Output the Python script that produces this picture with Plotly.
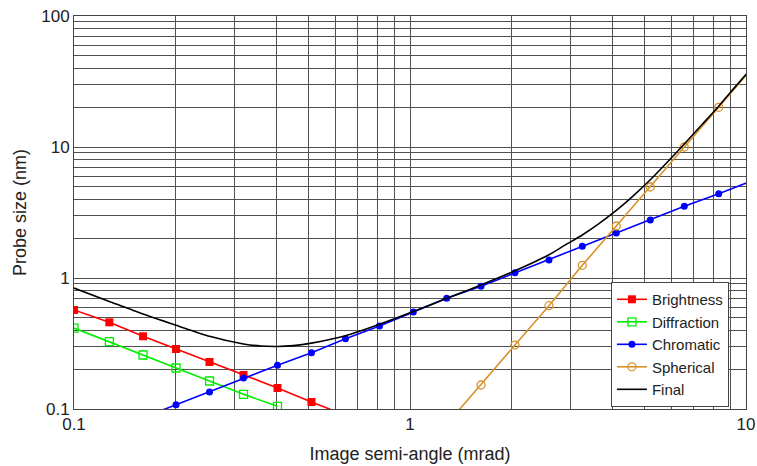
import plotly.graph_objects as go

# ---- data ----
bright_x = [0.1, 0.1274, 0.1605, 0.2012, 0.2531, 0.3195, 0.4033, 0.5091, 0.6427]
bright_y = [0.570, 0.459, 0.359, 0.287, 0.2285, 0.1817, 0.1447, 0.1131, 0.0896]

diff_x = [0.1, 0.1274, 0.1605, 0.2012, 0.2531, 0.3195, 0.4033]
diff_y = [0.415, 0.3265, 0.2584, 0.2055, 0.1636, 0.1295, 0.1048]

chrom_x = [0.1605, 0.2012, 0.2531, 0.3195, 0.4033, 0.5091, 0.6427, 0.8112, 1.023,
           1.286, 1.627, 2.053, 2.592, 3.257, 4.111, 5.190, 6.552, 8.295, 10.47]
chrom_y = [0.086, 0.1078, 0.1348, 0.1724, 0.2156, 0.2691, 0.3441, 0.4301, 0.5502,
           0.6998, 0.866, 1.096, 1.372, 1.746, 2.206, 2.772, 3.527, 4.401, 5.55]

sph_x = [1.286, 1.627, 2.053, 2.592, 3.257, 4.111, 5.190, 6.552, 8.295, 10.47]
sph_y = [0.0765, 0.1525, 0.3077, 0.6145, 1.250, 2.494, 4.95, 10.0, 20.1, 40.4]

final_x = [0.1, 0.1274, 0.1605, 0.2012, 0.2531, 0.3195, 0.36, 0.4033, 0.45, 0.5091,
           0.6427, 0.8112, 1.023, 1.286, 1.627, 2.053, 2.592, 2.9, 3.257, 3.65,
           4.111, 4.6, 5.19, 5.8, 6.552, 7.4, 8.295, 9.3, 10.47]
final_y = [0.838, 0.663, 0.531, 0.436, 0.359, 0.3136, 0.3025, 0.300, 0.3047, 0.3185,
           0.362, 0.443, 0.554, 0.700, 0.885, 1.135, 1.505, 1.79, 2.13, 2.60,
           3.28, 4.20, 5.62, 7.55, 10.55, 14.85, 20.5, 28.9, 41.0]

x_ticks = [0.1, 0.2, 0.3, 0.4, 0.5, 0.6, 0.7, 0.8, 0.9, 1, 2, 3, 4, 5, 6, 7, 8, 9, 10]
x_labels = ["0.1"] + [""] * 8 + ["1"] + [""] * 8 + ["10"]
y_ticks = [0.1, 0.2, 0.3, 0.4, 0.5, 0.6, 0.7, 0.8, 0.9, 1, 2, 3, 4, 5, 6, 7, 8, 9,
           10, 20, 30, 40, 50, 60, 70, 80, 90, 100]
y_labels = ["0.1"] + [""] * 8 + ["1"] + [""] * 8 + ["10"] + [""] * 8 + ["100"]

FONT = "Liberation Sans, Arial, sans-serif"
fig = go.Figure()

fig.add_trace(go.Scatter(x=bright_x, y=bright_y, name="Brightness", mode="lines+markers",
                         line=dict(color="#ff0000", width=1.6),
                         marker=dict(symbol="square", size=8, color="#ff0000")))
fig.add_trace(go.Scatter(x=diff_x, y=diff_y, name="Diffraction", mode="lines+markers",
                         line=dict(color="#00ee00", width=1.6),
                         marker=dict(symbol="square-open", size=8, color="#00ee00",
                                     line=dict(width=1.3))))
fig.add_trace(go.Scatter(x=chrom_x, y=chrom_y, name="Chromatic", mode="lines+markers",
                         line=dict(color="#0000ff", width=1.6),
                         marker=dict(symbol="circle", size=7, color="#0000ff")))
fig.add_trace(go.Scatter(x=sph_x, y=sph_y, name="Spherical", mode="lines+markers",
                         line=dict(color="#d8922a", width=1.6),
                         marker=dict(symbol="circle-open", size=8, color="#d8922a",
                                     line=dict(width=1.3))))
fig.add_trace(go.Scatter(x=final_x, y=final_y, name="Final", mode="lines",
                         line=dict(color="#000000", width=1.6, shape="spline", smoothing=0.6)))

axis_common = dict(type="log", showgrid=True, gridcolor="#505050", gridwidth=1,
                   showline=True, linecolor="#444444", linewidth=1, mirror=True,
                   ticks="", zeroline=False, automargin=False,
                   tickfont=dict(family=FONT, size=17, color="#222222"),
                   title_font=dict(family=FONT, size=18, color="#222222"))

fig.update_xaxes(range=[-1, 1], tickvals=x_ticks, ticktext=x_labels,
                 title_text="Image semi-angle (mrad)", title_standoff=13, **axis_common)
fig.update_yaxes(range=[-1, 2], tickvals=y_ticks, ticktext=y_labels,
                 title_text="Probe size (nm)", title_standoff=9, **axis_common)

fig.update_layout(
    width=757, height=466,
    margin=dict(l=74, r=11, t=16, b=57),
    paper_bgcolor="white", plot_bgcolor="white",
    font=dict(family=FONT, size=15, color="#222222"),
    showlegend=True,
    legend=dict(x=0.799, y=0.323, xanchor="left", yanchor="top",
                bgcolor="white", bordercolor="#444444", borderwidth=1,
                font=dict(family=FONT, size=15, color="#222222"),
                tracegroupgap=0, itemwidth=30),
)

fig.write_html("out.html")
